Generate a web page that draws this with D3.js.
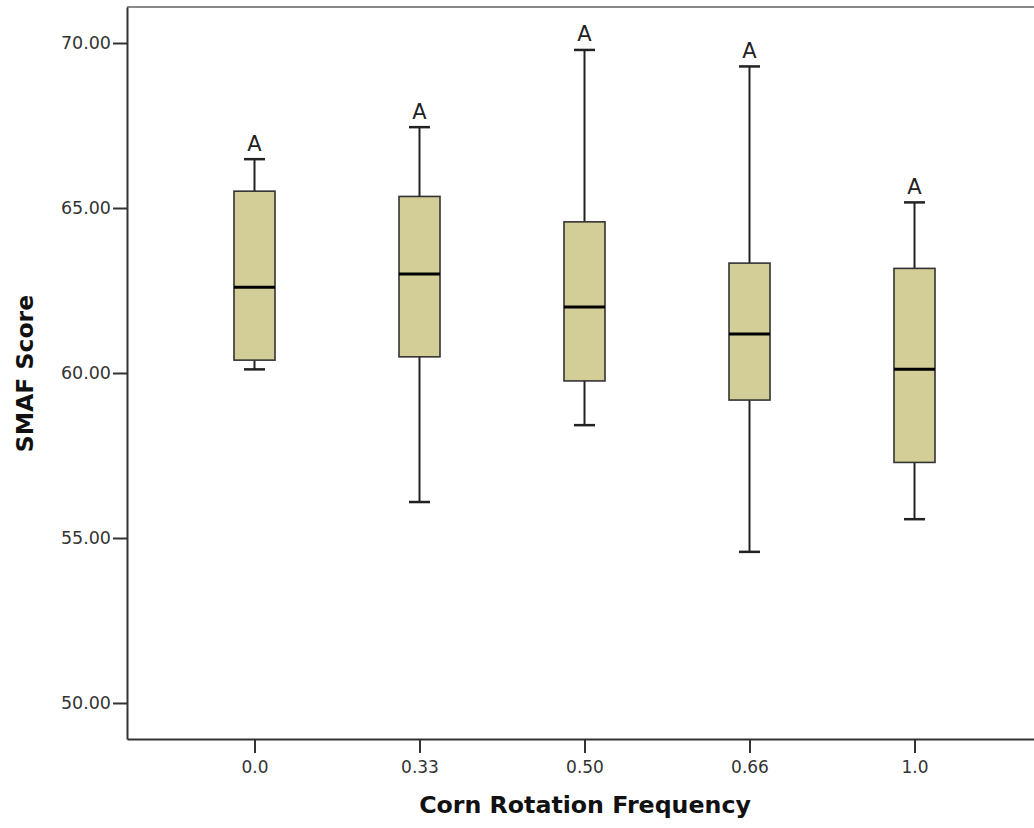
<!DOCTYPE html>
<html>
<head>
<meta charset="utf-8">
<script src="https://cdn.jsdelivr.net/npm/d3@7/dist/d3.min.js"></script>
<style>
  html, body { margin: 0; padding: 0; background: #fff; }
  svg { display: block; }
</style>
</head>
<body>
<svg id="chart" width="1034" height="828"></svg>
<script>
// ---- data ----
const categories = ["0.0", "0.33", "0.50", "0.66", "1.0"];
const whiskerLow  = [60.11, 56.09, 58.42, 54.58, 55.57];
const q1          = [60.39, 60.49, 59.76, 59.18, 57.29];
const median      = [62.60, 63.00, 62.00, 61.18, 60.11];
const q3          = [65.51, 65.35, 64.58, 63.33, 63.17];
const whiskerHigh = [66.48, 67.45, 69.79, 69.29, 65.17];
const groupLetters = ["A", "A", "A", "A", "A"];
const yTicks = [50, 55, 60, 65, 70];
const xTitle = "Corn Rotation Frequency";
const yTitle = "SMAF Score";

(function () {
const svg = d3.select("#chart");
const plotLeft = 127, plotRight = 1042, plotTop = 7, plotBottom = 739;

const x = d3.scalePoint().domain(categories).range([plotLeft, plotRight]).padding(0.7727);
const y = d3.scaleLinear().domain([48.909, 71.091]).range([plotBottom, plotTop]);

const boxW = 41, capW = 21;

// top frame line
svg.append("line")
  .attr("x1", plotLeft).attr("x2", plotRight).attr("y1", plotTop).attr("y2", plotTop)
  .attr("stroke", "#888").attr("stroke-width", 2);

// y axis
const yAxis = svg.append("g")
  .attr("transform", `translate(${plotLeft},0)`)
  .call(d3.axisLeft(y).tickValues(yTicks).tickFormat(d3.format(".2f"))
    .tickSize(14).tickSizeOuter(0).tickPadding(2));
yAxis.selectAll("path, line").attr("stroke", "#333").attr("stroke-width", 2);
yAxis.selectAll("text")
  .attr("font-family", "DejaVu Sans").attr("font-size", 17.5).attr("fill", "#333");

// x axis
const xAxis = svg.append("g")
  .attr("transform", `translate(0,${plotBottom})`)
  .call(d3.axisBottom(x).tickSize(14).tickSizeOuter(0).tickPadding(8));
xAxis.selectAll("path, line").attr("stroke", "#333").attr("stroke-width", 2);
xAxis.selectAll("text")
  .attr("font-family", "DejaVu Sans").attr("font-size", 17).attr("fill", "#333");

// boxes
const data = categories.map((c, i) => ({
  c, lo: whiskerLow[i], q1: q1[i], med: median[i], q3: q3[i], hi: whiskerHigh[i], letter: groupLetters[i]
}));

const g = svg.append("g").selectAll("g").data(data).join("g");

// whiskers
g.append("line")
  .attr("x1", d => x(d.c)).attr("x2", d => x(d.c))
  .attr("y1", d => y(d.hi)).attr("y2", d => y(d.q3))
  .attr("stroke", "#222").attr("stroke-width", 2);
g.append("line")
  .attr("x1", d => x(d.c)).attr("x2", d => x(d.c))
  .attr("y1", d => y(d.q1)).attr("y2", d => y(d.lo))
  .attr("stroke", "#222").attr("stroke-width", 2);
// caps
g.append("line")
  .attr("x1", d => x(d.c) - capW / 2).attr("x2", d => x(d.c) + capW / 2)
  .attr("y1", d => y(d.hi)).attr("y2", d => y(d.hi))
  .attr("stroke", "#222").attr("stroke-width", 2.5);
g.append("line")
  .attr("x1", d => x(d.c) - capW / 2).attr("x2", d => x(d.c) + capW / 2)
  .attr("y1", d => y(d.lo)).attr("y2", d => y(d.lo))
  .attr("stroke", "#222").attr("stroke-width", 2.5);
// box
g.append("rect")
  .attr("x", d => x(d.c) - boxW / 2).attr("width", boxW)
  .attr("y", d => y(d.q3)).attr("height", d => y(d.q1) - y(d.q3))
  .attr("fill", "#d3ce98").attr("stroke", "#333").attr("stroke-width", 1.6);
// median
g.append("line")
  .attr("x1", d => x(d.c) - boxW / 2).attr("x2", d => x(d.c) + boxW / 2)
  .attr("y1", d => y(d.med)).attr("y2", d => y(d.med))
  .attr("stroke", "#000").attr("stroke-width", 3);
// letters
g.append("text")
  .attr("x", d => x(d.c)).attr("y", d => y(d.hi) - 8.5)
  .attr("text-anchor", "middle")
  .attr("font-family", "DejaVu Sans").attr("font-size", 21).attr("fill", "#222")
  .text(d => d.letter);

// axis titles
svg.append("text")
  .attr("x", 585).attr("y", 813)
  .attr("text-anchor", "middle")
  .attr("font-family", "DejaVu Sans").attr("font-weight", "bold")
  .attr("font-size", 23.7).attr("fill", "#111")
  .text(xTitle);
svg.append("text")
  .attr("transform", "translate(33,373.5) rotate(-90)")
  .attr("text-anchor", "middle")
  .attr("font-family", "DejaVu Sans").attr("font-weight", "bold")
  .attr("font-size", 23.5).attr("fill", "#111")
  .text(yTitle);
})();
</script>
</body>
</html>
